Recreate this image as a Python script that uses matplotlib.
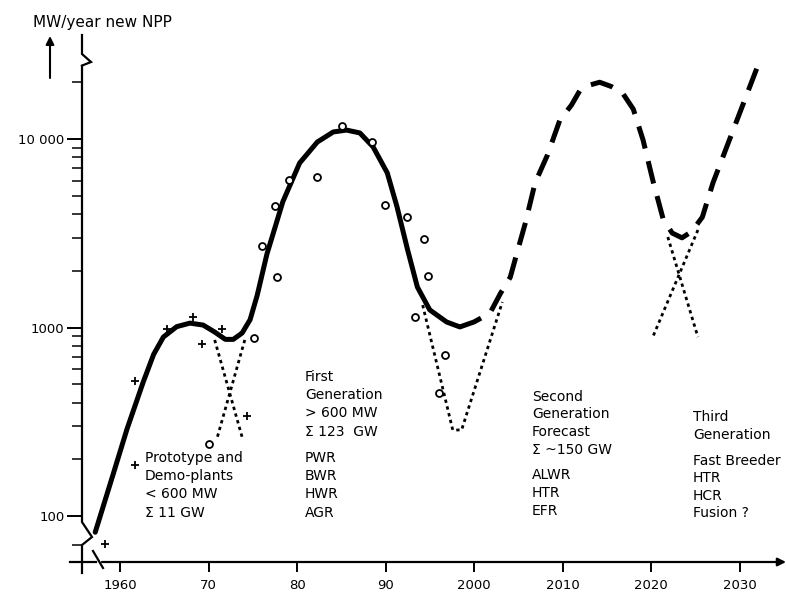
import matplotlib
matplotlib.use("Agg")
import matplotlib.pyplot as plt
from matplotlib.lines import Line2D
from matplotlib.ticker import FixedLocator, NullFormatter

W, H = 786, 597

######################################################
# values (year, MW/year)
######################################################

# solid curve: prototypes + first generation
solid_years = [1957.2, 1959.2, 1960.8, 1962.6, 1963.8, 1964.9, 1966.4, 1967.9, 1969.4,
               1970.7, 1971.9, 1972.8, 1973.8, 1974.7, 1975.5, 1976.6, 1978.4, 1980.3,
               1982.3, 1984.1, 1985.6, 1987.1, 1988.6, 1990.2, 1991.3, 1992.5, 1993.6,
               1995.0, 1996.9, 1998.4]
solid_mw = [82, 165, 290, 510, 720, 890, 1010, 1055, 1030,
            946, 865, 865, 935, 1100, 1480, 2450, 4650, 7460,
            9640, 10900, 11150, 10770, 9080, 6610, 4370, 2580, 1640,
            1240, 1070, 1007]

# dashed curve: forecast
dash_years = [1998.4, 2000.0, 2001.8, 2003.0, 2004.1, 2005.0, 2005.8, 2006.9, 2008.3,
              2009.7, 2011.0, 2012.0, 2013.2, 2014.2, 2015.5, 2016.8, 2018.0, 2019.1,
              2020.2, 2021.4, 2022.4, 2023.5, 2024.6, 2025.8, 2027.0, 2032.0]
dash_mw = [1007, 1070, 1190, 1520, 1850, 2630, 3580, 5850, 8220,
           12600, 15100, 18200, 19400, 20000, 19000, 17500, 14400, 9890,
           6050, 3720, 3170, 2990, 3230, 3850, 5850, 24000]

# dotted transition lines
x1a_years, x1a_mw = [1970.7, 1973.8], [859, 262]
x1b_years, x1b_mw = [1974.1, 1971.0], [859, 262]
v2_years, v2_mw = [1994.2, 1997.6, 1998.6, 2003.2], [1315, 286, 286, 1365]
x3a_years, x3a_mw = [2021.9, 2025.3], [3020, 890]
x3b_years, x3b_mw = [2025.3, 2020.2], [3290, 890]

# measured points
plus_years = [1958.3, 1961.7, 1961.7, 1965.3, 1968.2, 1969.3, 1971.5, 1974.3]
plus_mw = [71, 186, 520, 980, 1140, 815, 980, 340]
circle_years = [1970.0, 1975.1, 1976.1, 1977.5, 1977.7, 1979.1, 1982.3, 1985.1,
                1988.5, 1989.9, 1992.4, 1994.3, 1994.8, 1993.3, 1996.7, 1996.1]
circle_mw = [241, 880, 2700, 4400, 1850, 6050, 6280, 11700,
             9630, 4470, 3850, 2950, 1875, 1140, 715, 447]

x_ticks = [1960, 1970, 1980, 1990, 2000, 2010, 2020, 2030]
x_labels = ["1960", "70", "80", "90", "2000", "2010", "2020", "2030"]
y_ticks = [100, 1000, 10000]
y_labels = ["100", "1000", "10 000"]
y_minor = [70] + [k * 100 for k in range(2, 10)] + [k * 1000 for k in range(2, 10)] + [20000]

######################################################
# figure
######################################################

def yr_at(px):
    return 1960 + (px - 120) / 8.85

def mw_at(py):
    return 10 ** (2 + (516 - py) / 188.5)

fig = plt.figure(figsize=(W / 100, H / 100), dpi=100)
ax = fig.add_axes([82 / W, 1 - 562 / H, 700 / W, 522 / H])
ax.set_yscale("log")
ax.set_xlim(yr_at(82), yr_at(782))
ax.set_ylim(mw_at(562), mw_at(40))
for s in ax.spines.values():
    s.set_visible(False)

ax.plot(solid_years, solid_mw, color="k", lw=3.6, solid_capstyle="round",
        solid_joinstyle="round")
ax.plot(dash_years, dash_mw, color="k", lw=3.6, dashes=(4.6, 2.6),
        dash_capstyle="butt")
for xs, ys in [(x1a_years, x1a_mw), (x1b_years, x1b_mw), (v2_years, v2_mw),
               (x3a_years, x3a_mw), (x3b_years, x3b_mw)]:
    ax.plot(xs, ys, color="k", lw=2.0, dashes=(1.2, 1.3))

ax.plot(plus_years, plus_mw, "+", color="k", ms=6, mew=1.3)
ax.plot(circle_years, circle_mw, "o", color="k", mfc="white", ms=5, mew=1.3)

ax.set_xticks(x_ticks)
ax.set_xticklabels(x_labels)
ax.set_yticks(y_ticks)
ax.set_yticklabels(y_labels)
ax.yaxis.set_minor_locator(FixedLocator(y_minor))
ax.yaxis.set_minor_formatter(NullFormatter())
ax.xaxis.set_minor_locator(FixedLocator([]))
ax.tick_params(axis="x", direction="out", length=7.5, width=1.4, pad=5, labelsize=9.5)
ax.tick_params(axis="y", which="major", direction="out", length=10.5, width=1.4, pad=2,
               labelsize=9.5)
ax.tick_params(axis="y", which="minor", direction="out", length=7, width=1.1)


#helper to draw lines in pixel coords of the picture
def fig_line(pts, lw=1.6):
    xs = [p[0] / W for p in pts]
    ys = [1 - p[1] / H for p in pts]
    fig.add_artist(Line2D(xs, ys, transform=fig.transFigure, color="k", lw=lw,
                          solid_joinstyle="miter"))

def fp(x, y):
    return (x / W, 1 - y / H)

# y axis with break marks
fig_line([(82, 35), (82, 54), (91, 62), (81, 66), (82, 66), (82, 522),
          (92, 537), (82, 545), (82, 573)])
# x axis with break mark
fig_line([(70, 562), (96, 562)])
fig_line([(93, 551), (103, 568)])
ax.annotate("", xy=fp(786, 562), xytext=fp(102, 562), xycoords="figure fraction",
            textcoords="figure fraction",
            arrowprops=dict(arrowstyle="-|>", lw=1.6, color="k", mutation_scale=12,
                            shrinkA=0, shrinkB=0))
# arrow next to unit label
ax.annotate("", xy=fp(50, 36), xytext=fp(50, 78), xycoords="figure fraction",
            textcoords="figure fraction",
            arrowprops=dict(arrowstyle="-|>", lw=1.5, color="k", mutation_scale=12,
                            shrinkA=0, shrinkB=0))
fig.text(33 / W, 1 - 23 / H, "MW/year new NPP", fontsize=11, va="center", ha="left")


def block(x, y0, lines, step=18.2):
    for i, s in enumerate(lines):
        fig.text(x / W, 1 - (y0 + i * step) / H, s, fontsize=10, va="center", ha="left")

block(145, 458, ["Prototype and", "Demo-plants", "< 600 MW", "\u03a3 11 GW"])
block(305, 377, ["First", "Generation", "> 600 MW", "\u03a3 123  GW"])
block(305, 458, ["PWR", "BWR", "HWR", "AGR"])
block(532, 397, ["Second", "Generation", "Forecast", "\u03a3 ~150 GW"], step=17.5)
block(532, 475, ["ALWR", "HTR", "EFR"])
block(693, 417, ["Third", "Generation"])
block(693, 461, ["Fast Breeder", "HTR", "HCR", "Fusion ?"], step=17.3)

fig.savefig("out.png", dpi=100)
